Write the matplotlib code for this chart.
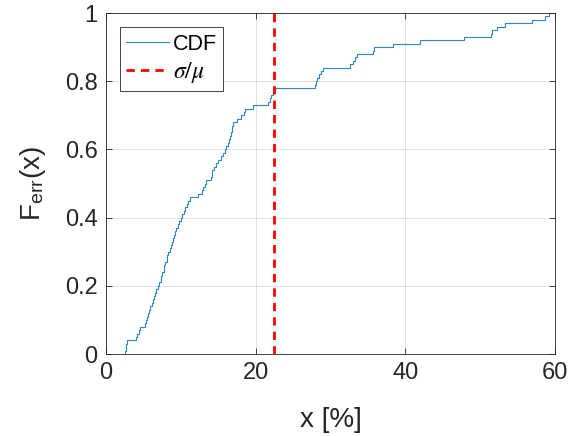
import numpy as np
import matplotlib
matplotlib.use("Agg")
import matplotlib.pyplot as plt

# sorted error samples (x in %), empirical CDF with n = 100
samples = [
    2.6, 2.65, 2.7, 2.75,
    4.0, 4.2, 4.4, 4.5,
    5.2, 5.35, 5.5, 5.65, 5.8, 5.95, 6.1, 6.25, 6.4, 6.55, 6.75, 7.0,
    7.15, 7.3, 7.4, 7.55, 7.7, 7.8, 7.95, 8.1, 8.2, 8.35, 8.5, 8.65, 8.8, 8.95, 9.05, 9.2,
    9.4, 9.6, 9.8, 10.0,
    10.2, 10.4, 10.6,
    10.8, 11.0, 11.2,
    12.3,
    12.8,
    13.0, 13.2, 13.4,
    14.1, 14.15, 14.2,
    14.5, 14.75, 15.0,
    15.4, 15.7,
    15.9, 16.1, 16.3,
    16.45, 16.55, 16.7, 16.8,
    16.9, 17.0,
    17.5,
    18.1,
    18.4, 18.6,
    19.7,
    21.6, 21.9,
    22.1, 22.3, 22.6,
    27.9, 28.0, 28.2,
    28.5, 28.8,
    29.0,
    32.6,
    33.0, 33.3,
    33.5,
    35.7, 35.75,
    38.4,
    42.0,
    47.8,
    51.5, 51.55,
    52.2,
    53.3,
    56.9,
    58.7,
    59.2,
]
sigma_over_mu = 22.5
x_ticks = [0, 20, 40, 60]
y_ticks = [0, 0.2, 0.4, 0.6, 0.8, 1.0]
y_tick_labels = ["0", "0.2", "0.4", "0.6", "0.8", "1"]

plt.rcParams['font.family'] = ['Liberation Sans', 'DejaVu Sans']
plt.rcParams['mathtext.fontset'] = 'stix'

fig = plt.figure(figsize=(5.81, 4.36), dpi=100)
ax = fig.add_axes([0.1824, 0.188, 0.7728, 0.782])

xs = np.sort(np.array(samples))
n = len(xs)
F = np.arange(1, n + 1) / n
ax.step(np.r_[xs[0], xs], np.r_[0.0, F], where='post', color='#2E86CC', lw=0.8, label='CDF')
ax.axvline(sigma_over_mu, color='#FF0000', lw=2.0, ls=(0, (3, 2.2)), label=r'$\sigma/\mu$')

ax.set_xlim(0, 60)
ax.set_ylim(0, 1)
ax.set_xticks(x_ticks)
ax.set_yticks(y_ticks)
ax.set_yticklabels(y_tick_labels)
ax.grid(True, color='#262626', alpha=0.15, lw=0.6)
ax.set_axisbelow(True)
tc = '#262626'
ax.tick_params(direction='in', top=True, right=True, length=4, width=0.6,
               colors=tc, labelsize=17, pad=6)
for s in ax.spines.values():
    s.set_color(tc)
    s.set_linewidth(0.6)

ax.set_xlabel('x [%]', fontsize=20, color=tc, labelpad=16)
ax.set_ylabel(r'F$_\mathregular{err}$(x)', fontsize=20, color=tc, labelpad=12)

leg = ax.legend(loc='upper left', fontsize=15.5, frameon=True, fancybox=False,
                edgecolor='#262626', framealpha=1, borderaxespad=0.65,
                handlelength=2.0, handletextpad=0.15, borderpad=0.3, labelspacing=0.25)
leg.get_frame().set_linewidth(0.6)
leg.get_texts()[1].set_fontsize(17)

fig.savefig('out.png', dpi=100)
